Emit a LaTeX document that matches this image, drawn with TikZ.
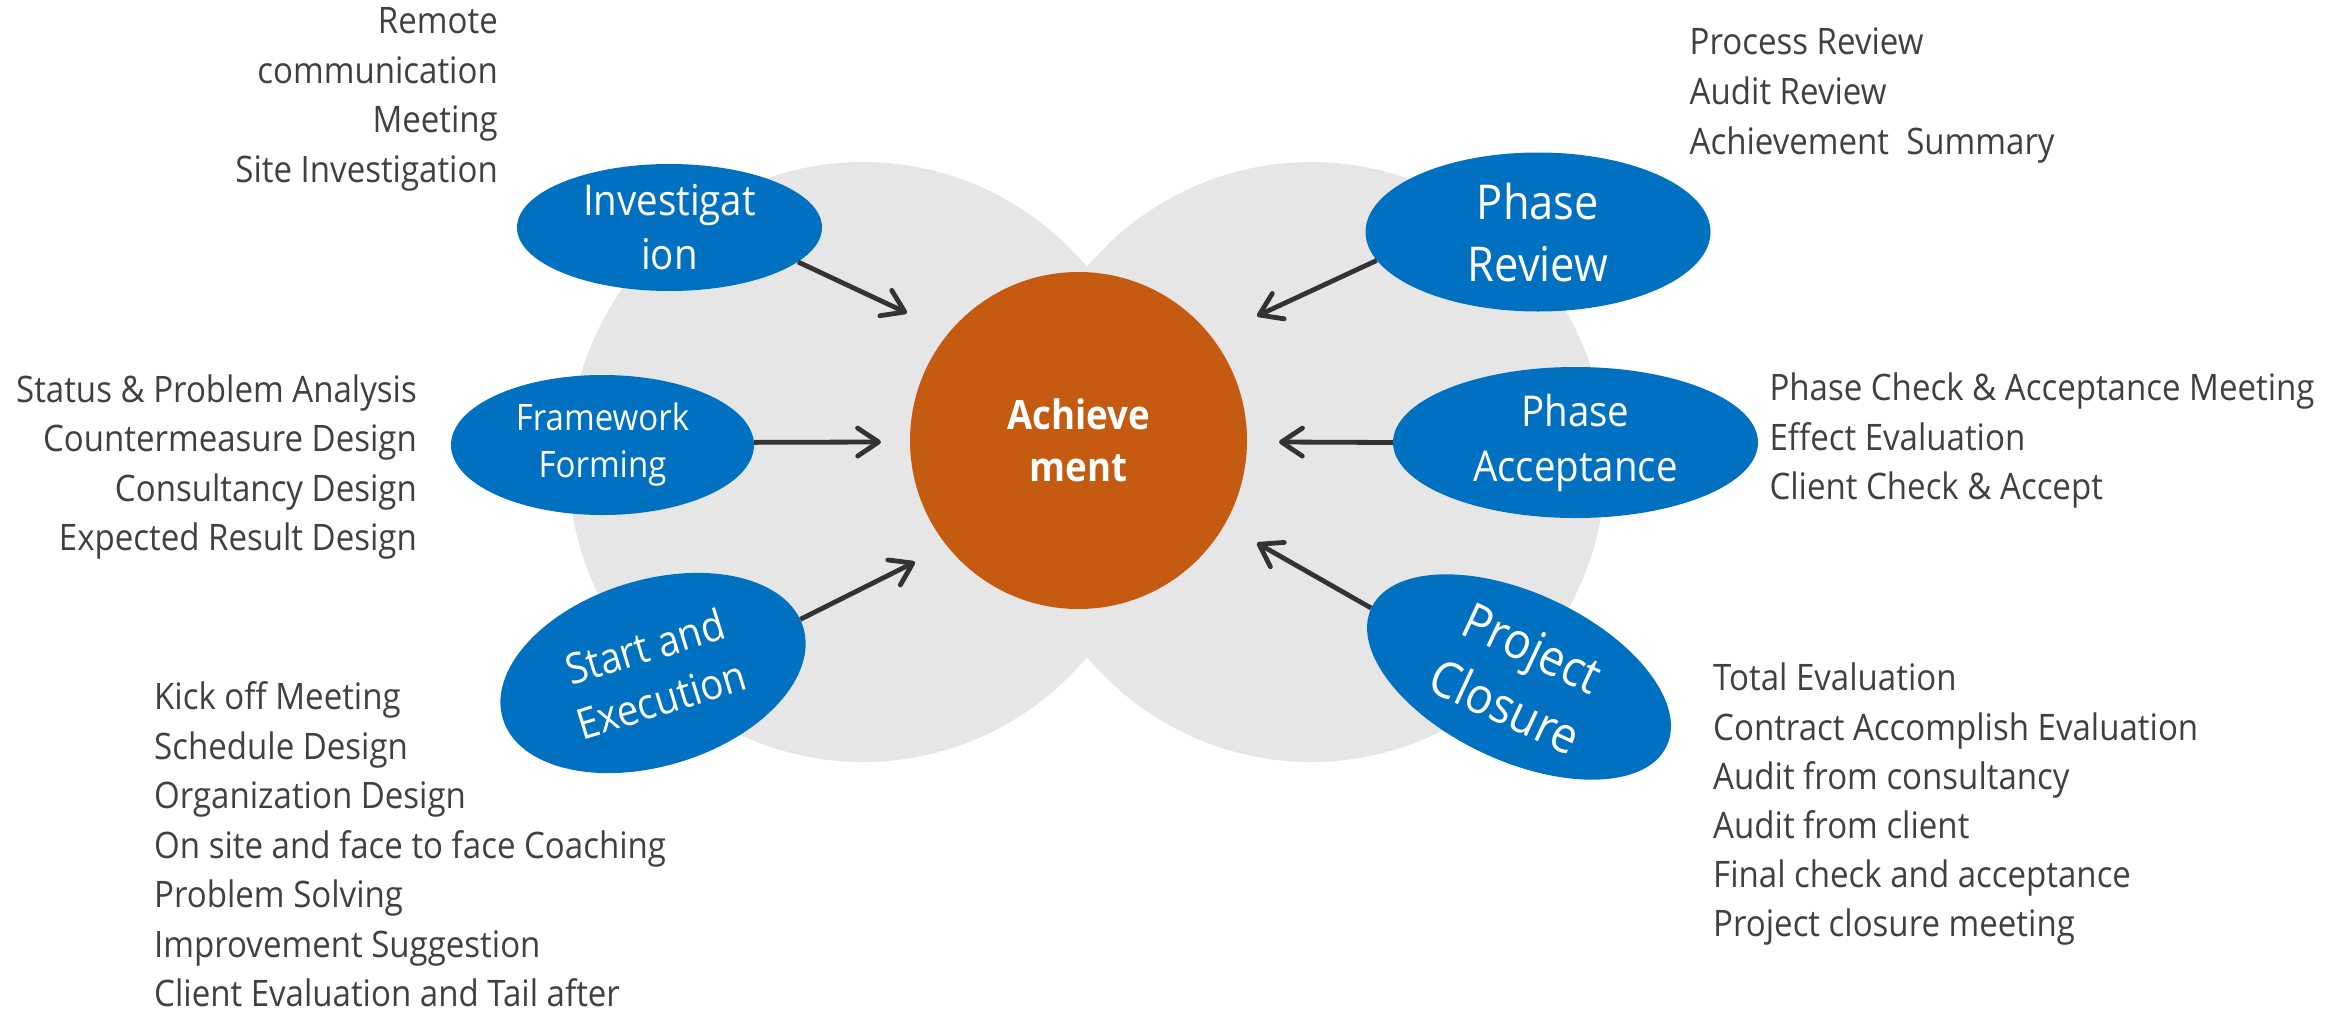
\documentclass[tikz,border=0pt]{standalone}
\usepackage{fontspec}
\setmainfont{Open Sans}[FakeStretch=0.905]
\usetikzlibrary{arrows.meta,shapes.geometric}
\definecolor{bgc}{HTML}{E7E6E6}
\definecolor{bluec}{HTML}{0070C0}
\definecolor{orc}{HTML}{C55A11}
\definecolor{txtc}{HTML}{404040}
\definecolor{arrc}{HTML}{333333}
\begin{document}
\begin{tikzpicture}[x=1pt,y=-1pt,
  bgfill/.style={fill=bgc},
  bnode/.style={ellipse, fill=bluec, text=white, inner sep=0pt, align=center},
  listtxt/.style={text=txtc, inner sep=0pt, font=\fontsize{36.5}{44}\selectfont},
  conn/.style={draw=arrc, line width=4.8pt, -{Straight Barb[length=21pt,width=28pt,round]}}]
\useasboundingbox (0,0) rectangle (2349,1017);
% background
\fill[bgfill] (863,462) ellipse [x radius=295, y radius=300];
\fill[bgfill] (1311,462) ellipse [x radius=295, y radius=300];
% centre
\node[circle, fill=orc, minimum size=337pt, inner sep=0pt, text=white, align=center,
      font=\bfseries\fontsize{40.5}{52}\selectfont] (ach) at (1078.5,440.5) {Achieve\\ment};
% phases
\node[bnode, minimum width=305pt, minimum height=127pt, font=\fontsize{42.5}{54}\selectfont] (inv) at (669.5,227.5) {Investigat\\ion};
\node[bnode, minimum width=303pt, minimum height=140pt, font=\fontsize{36.5}{47}\selectfont] (fw) at (602.5,445) {Framework\\Forming};
\node[bnode, minimum width=345pt, minimum height=159pt, font=\fontsize{48}{62}\selectfont] (pr) at (1538,232) {Phase\\Review};
\node[bnode, minimum width=365pt, minimum height=151pt, font=\fontsize{42.5}{55}\selectfont] (pa) at (1575.5,442.5) {Phase\\Acceptance};
\node[bnode, rotate=17, minimum width=314pt, minimum height=186pt, font=\fontsize{42.5}{55}\selectfont] (se) at (653,673) {Start and\\Execution};
\node[bnode, rotate=-25, minimum width=326pt, minimum height=168pt, font=\fontsize{50}{65}\selectfont] (pc) at (1519,677) {Project\\Closure};
% arrow tips
\coordinate (tInv) at (907,313);
\coordinate (tFw) at (881,442);
\coordinate (tPr) at (1257,316);
\coordinate (tPa) at (1279,442);
\coordinate (tSe) at (915,562);
\coordinate (tPc) at (1257,543);
\draw[conn] (inv.-15) -- (tInv);
\draw[conn] (fw.1) -- (tFw);
\draw[conn] (pr.190) -- (tPr);
\draw[conn] (pa.west) -- (tPa);
\draw[conn] (se.3) -- (tSe);
\draw[conn] (pc.west) -- (tPc);
% lists
\foreach \t/\yy [count=\i] in {Remote/33.5, communication/83, Meeting/132.5, Site Investigation/182}
  \node[listtxt, anchor=base east] (tl\i) at (498,\yy) {\t};
\foreach \t/\yy [count=\i] in {Status \& Problem Analysis/402, Countermeasure Design/451, Consultancy Design/501, Expected Result Design/550}
  \node[listtxt, anchor=base east] (ml\i) at (417,\yy) {\t};
\foreach \t/\yy [count=\i] in {Kick off Meeting/709.5, Schedule Design/759, Organization Design/808.5, On site and face to face Coaching/858, Problem Solving/907.5, Improvement Suggestion/957, Client Evaluation and Tail after/1006.5}
  \node[listtxt, anchor=base west] (bl\i) at (154,\yy) {\t};
\foreach \t/\yy [count=\i] in {Process Review/54.3, Audit Review/104.3, Achievement\ \ Summary/154.3}
  \node[listtxt, anchor=base west] (tr\i) at (1689.5,\yy) {\t};
\foreach \t/\yy [count=\i] in {Phase Check \& Acceptance Meeting/400.7, Effect Evaluation/450, Client Check \& Accept/499.3}
  \node[listtxt, anchor=base west] (mr\i) at (1769.3,\yy) {\t};
\foreach \t/\yy [count=\i] in {Total Evaluation/690.6, Contract Accomplish Evaluation/740, Audit from consultancy/789.5, Audit from client/838, Final check and acceptance/887.4, Project closure meeting/936.9}
  \node[listtxt, anchor=base west] (br\i) at (1713,\yy) {\t};
\end{tikzpicture}
\end{document}
